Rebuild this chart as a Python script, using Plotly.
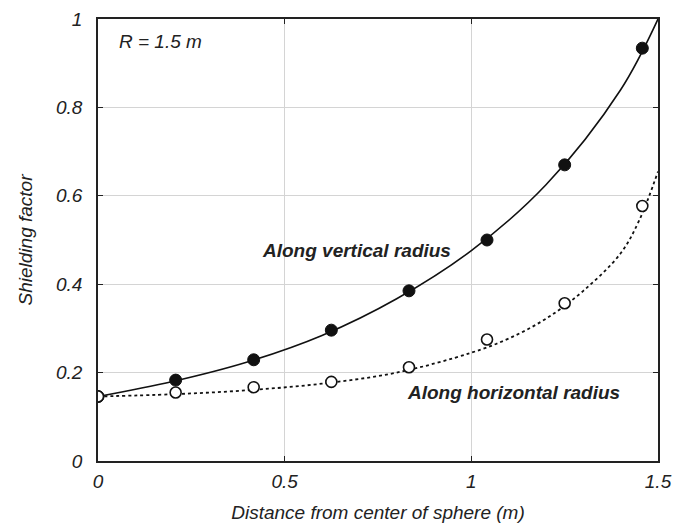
import plotly.graph_objects as go

# Measured points
x_pts = [0.0, 0.208, 0.417, 0.625, 0.833, 1.042, 1.25, 1.458]
vert_pts = [0.146, 0.183, 0.229, 0.296, 0.385, 0.500, 0.670, 0.934]
horiz_pts = [0.146, 0.155, 0.167, 0.179, 0.212, 0.275, 0.357, 0.577]

# Fitted curves
vert_curve_x = [0.0, 0.2, 0.4, 0.6, 0.8, 1.0, 1.2, 1.4, 1.5]
vert_curve_y = [0.146, 0.180, 0.224, 0.284, 0.367, 0.476, 0.625, 0.84, 1.0]
horiz_curve_x = [0.0, 0.2, 0.4, 0.6, 0.8, 1.0, 1.1, 1.2, 1.3, 1.4, 1.45, 1.5]
horiz_curve_y = [0.146, 0.151, 0.160, 0.175, 0.200, 0.245, 0.277, 0.322, 0.385, 0.47, 0.545, 0.655]

x_ticks = [0, 0.5, 1, 1.5]
x_tick_text = ["0", "0.5", "1", "1.5"]
y_ticks = [0, 0.2, 0.4, 0.6, 0.8, 1]
y_tick_text = ["0", "0.2", "0.4", "0.6", "0.8", "1"]

FONT = "Arial, Liberation Sans, sans-serif"
TXT = "#222"

fig = go.Figure()
fig.add_trace(go.Scatter(x=vert_curve_x, y=vert_curve_y, mode="lines",
                         line=dict(color="#111", width=1.6, shape="spline", smoothing=1.0),
                         showlegend=False, hoverinfo="skip"))
fig.add_trace(go.Scatter(x=horiz_curve_x, y=horiz_curve_y, mode="lines",
                         line=dict(color="#111", width=1.8, dash="3px,3px", shape="spline", smoothing=1.0),
                         showlegend=False, hoverinfo="skip"))
fig.add_trace(go.Scatter(x=x_pts, y=vert_pts, mode="markers",
                         marker=dict(symbol="circle", size=12, color="#111", line=dict(color="#111", width=1)),
                         showlegend=False))
fig.add_trace(go.Scatter(x=x_pts, y=horiz_pts, mode="markers",
                         marker=dict(symbol="circle", size=11, color="white", line=dict(color="#111", width=1.6)),
                         showlegend=False))

fig.add_annotation(x=0.05, y=0.95, xref="x", yref="y", text="<i>R = 1.5 m</i>",
                   showarrow=False, xanchor="left", yanchor="middle",
                   font=dict(family=FONT, size=19, color=TXT))
fig.add_annotation(x=0.435, y=0.477, xref="x", yref="y", text="<b><i>Along vertical radius</i></b>",
                   showarrow=False, xanchor="left", yanchor="middle",
                   font=dict(family=FONT, size=19, color=TXT))
fig.add_annotation(x=0.822, y=0.154, xref="x", yref="y", text="<b><i>Along horizontal radius</i></b>",
                   showarrow=False, xanchor="left", yanchor="middle",
                   font=dict(family=FONT, size=19, color=TXT))

axis_common = dict(showline=True, linecolor="#222", linewidth=1.5, mirror="ticks",
                   ticks="inside", ticklen=5, tickcolor="#222", tickwidth=1,
                   showgrid=True, gridcolor="#d4d4d4", gridwidth=1, zeroline=False,
                   automargin=False,
                   tickfont=dict(family=FONT, size=19, color=TXT))

fig.update_xaxes(range=[0, 1.5], tickvals=x_ticks, ticktext=[f"<i>{t}</i>" for t in x_tick_text],
                 title=dict(text="<i>Distance from center of sphere (m)</i>", standoff=16,
                            font=dict(family=FONT, size=19, color=TXT)),
                 ticklabelstandoff=2, **axis_common)
fig.update_yaxes(range=[0, 1], tickvals=y_ticks, ticktext=[f"<i>{t}</i>" for t in y_tick_text],
                 title=dict(text="<i>Shielding factor</i>", standoff=18,
                            font=dict(family=FONT, size=19, color=TXT)),
                 ticklabelstandoff=10, **axis_common)

fig.update_layout(width=689, height=523, margin=dict(l=98, r=31, t=19, b=62),
                  plot_bgcolor="white", paper_bgcolor="white")

fig.write_html("out.html")
